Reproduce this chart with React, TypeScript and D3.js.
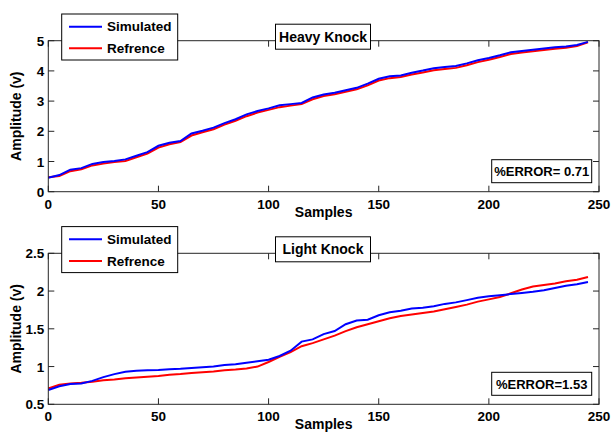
import React from "react";
import * as d3 from "d3";

const samples = [0,5,10,15,20,25,30,35,40,45,50,55,60,65,70,75,80,85,90,95,100,105,110,115,120,125,130,135,140,145,150,155,160,165,170,175,180,185,190,195,200,205,210,215,220,225,230,235,240,245];

const heavySimulated = [0.46,0.55,0.73,0.78,0.92,0.98,1.02,1.07,1.19,1.31,1.52,1.62,1.68,1.93,2.02,2.12,2.27,2.40,2.56,2.67,2.76,2.86,2.90,2.94,3.12,3.22,3.28,3.36,3.44,3.58,3.74,3.82,3.85,3.94,4.01,4.09,4.13,4.16,4.25,4.35,4.43,4.52,4.62,4.66,4.70,4.74,4.78,4.81,4.86,4.96];
const heavyReference = [0.48,0.52,0.68,0.74,0.87,0.93,0.98,1.02,1.14,1.26,1.46,1.57,1.64,1.86,1.97,2.07,2.22,2.35,2.50,2.62,2.71,2.80,2.85,2.90,3.06,3.17,3.23,3.31,3.39,3.52,3.68,3.76,3.80,3.88,3.95,4.02,4.06,4.10,4.19,4.29,4.37,4.46,4.56,4.61,4.65,4.69,4.73,4.77,4.82,4.95];

const lightSimulated = [0.69,0.74,0.77,0.775,0.81,0.86,0.90,0.93,0.945,0.95,0.955,0.965,0.97,0.98,0.99,1.00,1.02,1.03,1.05,1.07,1.09,1.14,1.21,1.33,1.36,1.43,1.47,1.56,1.61,1.62,1.68,1.72,1.74,1.77,1.78,1.80,1.83,1.85,1.88,1.91,1.93,1.945,1.96,1.975,1.99,2.01,2.04,2.07,2.09,2.12];
const lightReference = [0.71,0.76,0.775,0.785,0.80,0.82,0.83,0.845,0.855,0.865,0.875,0.89,0.90,0.915,0.925,0.935,0.95,0.96,0.975,1.00,1.06,1.13,1.19,1.27,1.31,1.36,1.41,1.47,1.52,1.56,1.60,1.64,1.67,1.69,1.71,1.73,1.76,1.79,1.82,1.86,1.89,1.92,1.97,2.02,2.06,2.08,2.10,2.13,2.15,2.185];

const xTicks = [0, 50, 100, 150, 200, 250];
const heavyTicks = [0, 1, 2, 3, 4, 5];
const lightTicks = [0.5, 1, 1.5, 2, 2.5];

const seriesNames = ["Simulated", "Refrence"];
const seriesColors = ["#0000ff", "#ff0000"];

const FONT = "'Liberation Sans', Arial, sans-serif";

type PanelProps = {
  top: number;
  domain: [number, number];
  yTicks: number[];
  sim: number[];
  ref: number[];
  title: string;
  error: string;
};

const left = 48.3;
const right = 599;
const plotH = 151;

function Panel({ top, domain, yTicks, sim, ref, title, error }: PanelProps) {
  const x = d3.scaleLinear().domain([0, 250]).range([left, right]);
  const y = d3.scaleLinear().domain(domain).range([top + plotH, top]);
  const bottom = top + plotH;
  const line = (vals: number[]) =>
    d3.line<number>().x((_, i) => x(samples[i])).y((v) => y(v))(vals) || "";
  const tl = 6;
  const axisColor = "#262626";
  return (
    <g>
      <rect x={left} y={top} width={right - left} height={plotH} fill="#fff" stroke="none" />
      <path d={line(ref)} fill="none" stroke={seriesColors[1]} strokeWidth={2} />
      <path d={line(sim)} fill="none" stroke={seriesColors[0]} strokeWidth={2} />
      {/* axes box */}
      <rect x={left} y={top} width={right - left} height={plotH} fill="none" stroke={axisColor} strokeWidth={1} />
      {xTicks.map((t) => (
        <g key={"x" + t}>
          <line x1={x(t)} x2={x(t)} y1={bottom} y2={bottom - tl} stroke={axisColor} />
          <line x1={x(t)} x2={x(t)} y1={top} y2={top + tl} stroke={axisColor} />
          <text x={x(t)} y={bottom + 17} textAnchor="middle" fontFamily={FONT} fontWeight="bold" fontSize={13.5} fill="#000">
            {t}
          </text>
        </g>
      ))}
      {yTicks.map((t) => (
        <g key={"y" + t}>
          <line x1={left} x2={left + tl} y1={y(t)} y2={y(t)} stroke={axisColor} />
          <line x1={right} x2={right - tl} y1={y(t)} y2={y(t)} stroke={axisColor} />
          <text x={left - 4} y={y(t) + 5} textAnchor="end" fontFamily={FONT} fontWeight="bold" fontSize={13.5} fill="#000">
            {t}
          </text>
        </g>
      ))}
      <text x={(left + right) / 2} y={bottom + 25} textAnchor="middle" fontFamily={FONT} fontWeight="bold" fontSize={14} fill="#000">
        Samples
      </text>
      <text
        transform={`translate(${21},${top + plotH / 2}) rotate(-90)`}
        textAnchor="middle"
        fontFamily={FONT}
        fontWeight="bold"
        fontSize={14}
        fill="#000"
      >
        Amplitude (v)
      </text>
      {/* legend */}
      <rect x={61.7} y={top - 26.7} width={116} height={46} fill="#fff" stroke="#000" strokeWidth={1} />
      {seriesNames.map((n, i) => (
        <g key={n}>
          <line x1={69} x2={102} y1={top - 14 + i * 21.6} y2={top - 14 + i * 21.6} stroke={seriesColors[i]} strokeWidth={2} />
          <text x={107} y={top - 9.3 + i * 21.6} fontFamily={FONT} fontWeight="bold" fontSize={13.5} fill="#000">
            {n}
          </text>
        </g>
      ))}
      {/* title box */}
      <rect x={275.5} y={top - 16.5} width={95} height={25} fill="#fff" stroke="#000" strokeWidth={1} />
      <text x={323} y={top + 1} textAnchor="middle" fontFamily={FONT} fontWeight="bold" fontSize={14} fill="#000">
        {title}
      </text>
      {/* error box */}
      <rect x={491.7} y={bottom - 32} width={100} height={23} fill="#fff" stroke="#000" strokeWidth={1} />
      <text x={541.7} y={bottom - 15.5} textAnchor="middle" fontFamily={FONT} fontWeight="bold" fontSize={13} fill="#000">
        {error}
      </text>
    </g>
  );
}

export default function App() {
  return (
    <svg width={611} height={438} style={{ position: "absolute", left: 0, top: 0, background: "#fff" }}>
      <rect x={0} y={0} width={611} height={438} fill="#fff" />
      <Panel top={40.7} domain={[0, 5]} yTicks={heavyTicks} sim={heavySimulated} ref={heavyReference} title="Heavy Knock" error="%ERROR= 0.71" />
      <Panel top={253.3} domain={[0.5, 2.5]} yTicks={lightTicks} sim={lightSimulated} ref={lightReference} title="Light Knock" error="%ERROR=1.53" />
    </svg>
  );
}
